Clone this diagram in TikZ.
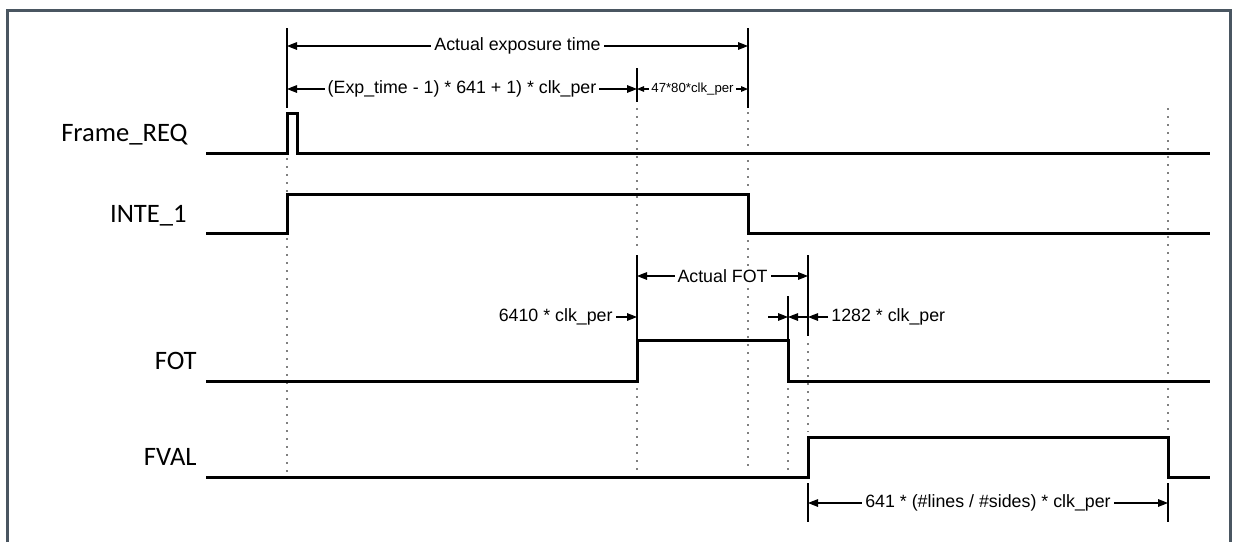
\documentclass[tikz,border=0pt]{standalone}
\usepackage{fontspec}
\setmainfont{Liberation Sans}
\newfontfamily\sigfont{Carlito}
\usetikzlibrary{arrows.meta}
\definecolor{framegray}{HTML}{4A5661}
\tikzset{wave/.style={line width=1.5pt},
  guide/.style={gray,line width=0.9pt,dash pattern=on 1pt off 3pt},
  tick/.style={line width=1pt},
  dim/.style={line width=0.55pt},
  dimlabel/.style={fill=white,inner sep=1.5pt,font=\fontsize{8.9}{10}\selectfont},
  smalllabel/.style={fill=white,inner sep=1pt,font=\fontsize{6.6}{8}\selectfont},
  signame/.style={anchor=base east,inner sep=0pt,font=\sigfont\fontsize{13.3}{15}\selectfont}}

\begin{document}
\begin{tikzpicture}[x=0.5pt,y=-0.5pt,>={Triangle[length=5pt,width=3.8pt]}]
  \useasboundingbox (0,0) rectangle (1237,542);
  \draw[framegray,line width=1.5pt] (7.5,542) -- (7.5,10) -- (1230.5,10) -- (1230.5,542);

  % signal names
  \node[signame] (req) at (188,141) {Frame\_REQ};
  \node[signame] (inte) at (187,222) {INTE\_1};
  \node[signame] (fot) at (197,369) {FOT};
  \node[signame] (fval) at (197,465) {FVAL};

  % dotted guides
  \draw[guide] (287,158) -- (287,472);
  \draw[guide] (637,100) -- (637,252);
  \draw[guide] (637,388) -- (637,472);
  \draw[guide] (748,112) -- (748,188);
  \draw[guide] (748,240) -- (748,472);
  \draw[guide] (788,388) -- (788,472);
  \draw[guide] (808,343) -- (808,432);
  \draw[guide] (1168,108) -- (1168,432);

  % waveforms
  \draw[wave] (206,153) -- (287,153) -- (287,113) -- (297,113) -- (297,153) -- (1210,153);
  \draw[wave] (206,233) -- (287,233) -- (287,194) -- (748,194) -- (748,233) -- (1210,233);
  \draw[wave] (206,381) -- (637,381) -- (637,340) -- (788,340) -- (788,381) -- (1210,381);
  \draw[wave] (206,477) -- (808,477) -- (808,437) -- (1168,437) -- (1168,477) -- (1210,477);

  % extension lines
  \draw[tick] (287,28) -- (287,108);
  \draw[tick] (748,28) -- (748,108);
  \draw[tick] (637,68) -- (637,102);
  \draw[tick] (637,255) -- (637,340);
  \draw[tick] (788,296) -- (788,340);
  \draw[tick] (808,255) -- (808,336);
  \draw[tick] (808,483) -- (808,522);
  \draw[tick] (1168,483) -- (1168,522);

  % dimension points
  \coordinate (e0) at (287,46);
  \coordinate (e1) at (748,46);
  \coordinate (x0) at (287,89);
  \coordinate (x1) at (637,89);
  \coordinate (x2) at (748,89);
  \coordinate (f0) at (637,276);
  \coordinate (f1) at (808,276);
  \coordinate (d0) at (637,317);
  \coordinate (d1) at (768,317);
  \coordinate (d2) at (788,317);
  \coordinate (d3) at (808,317);
  \coordinate (v0) at (808,503);
  \coordinate (v1) at (1168,503);

  % dimensions
  \draw[dim,<->] (e0) -- node[dimlabel] {Actual exposure time} (e1);
  \draw[dim,<->] (x0) -- node[dimlabel] {(Exp\_time - 1) * 641 + 1) * clk\_per} (x1);
  \draw[dim,{Triangle[length=3.5pt,width=2.8pt]}-{Triangle[length=3.5pt,width=2.8pt]}]
    (x1) -- node[smalllabel] {47*80*clk\_per} (x2);
  \draw[dim,<->] (f0) -- node[dimlabel] {Actual FOT} (f1);
  \node[dimlabel,anchor=east] (lfot) at (616,317) {6410 * clk\_per};
  \draw[dim,->] (lfot) -- (d0);
  \draw[dim,->] (d1) -- (d2);
  \draw[dim,->] (d3) -- (d2);
  \node[dimlabel,anchor=west] (lval) at (828,317) {1282 * clk\_per};
  \draw[dim,->] (lval) -- (d3);
  \draw[dim,<->] (v0) -- node[dimlabel] {641 * (\#lines / \#sides) * clk\_per} (v1);
\end{tikzpicture}
\end{document}
